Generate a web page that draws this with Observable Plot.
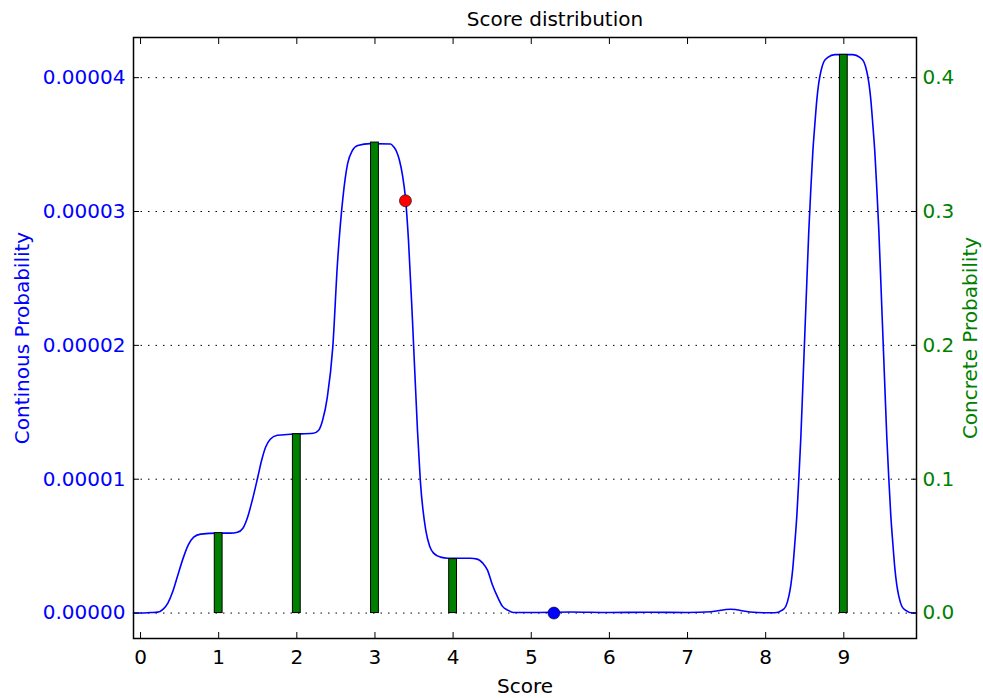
<!DOCTYPE html>
<html><head><meta charset="utf-8">
<script src="https://cdn.jsdelivr.net/npm/d3@7"></script>
<script src="https://cdn.jsdelivr.net/npm/@observablehq/plot@0.6"></script>
<style>body{margin:0;background:#fff} svg{font-family:"DejaVu Sans"}</style>
</head><body><div id="chart"></div>
<script>
// Concrete (discrete) probability per score — right axis
const scores = [0, 1, 2, 3, 4, 5, 6, 7, 8, 9];
const concreteProb = [0, 0.0597, 0.1336, 0.3515, 0.0403, 0, 0, 0, 0, 0.417];

// Continuous probability curve — left axis
const curveScore = [-0.09, 0.0, 0.13, 0.22, 0.29, 0.35, 0.41, 0.47, 0.55, 0.61, 0.68, 0.77, 0.99, 1.15, 1.24, 1.31, 1.37, 1.43, 1.50, 1.55, 1.60, 1.66, 1.75, 1.92, 2.21, 2.28, 2.33, 2.39, 2.46, 2.52, 2.59, 2.65, 2.71, 2.78, 2.94,
  3.199, 3.237, 3.276, 3.314, 3.353, 3.391, 3.429, 3.480, 3.544, 3.58, 3.65, 3.70, 3.75, 3.84, 3.93, 4.22, 4.31, 4.38, 4.44, 4.50, 4.57, 4.63, 4.70, 4.77,
  5.00, 5.50, 6.00, 6.50, 7.00, 7.30, 7.55, 7.80, 8.00, 8.117,
  8.207, 8.258, 8.296, 8.322, 8.347, 8.373, 8.399, 8.424, 8.450, 8.475, 8.501, 8.527, 8.552, 8.578, 8.603, 8.629, 8.655, 8.680, 8.706, 8.744, 8.795, 8.885,
  9.115, 9.205, 9.256, 9.294, 9.320, 9.345, 9.371, 9.397, 9.422, 9.448, 9.473, 9.499, 9.525, 9.550, 9.576, 9.601, 9.627, 9.653, 9.678, 9.704, 9.742, 9.793, 9.883, 9.93];
const curveProb = [0, 0, 4e-8, 7e-8, 3.0e-7, 7.5e-7, 1.57e-6, 2.69e-6, 4.18e-6, 5.07e-6, 5.67e-6, 5.90e-6, 5.97e-6, 5.97e-6, 6.04e-6, 6.34e-6, 7.16e-6, 8.43e-6, 1.015e-5, 1.142e-5, 1.239e-5, 1.299e-5, 1.328e-5, 1.336e-5, 1.343e-5, 1.366e-5, 1.440e-5, 1.612e-5, 1.985e-5, 2.612e-5, 3.104e-5, 3.358e-5, 3.455e-5, 3.493e-5, 3.507e-5,
  3.504e-5, 3.485e-5, 3.448e-5, 3.381e-5, 3.269e-5, 3.097e-5, 2.784e-5, 2.187e-5, 1.366e-5, 9.93e-6, 6.19e-6, 5.00e-6, 4.48e-6, 4.18e-6, 4.10e-6, 4.10e-6, 4.03e-6, 3.73e-6, 3.21e-6, 2.16e-6, 1.19e-6, 5.2e-7, 2.2e-7, 4e-8,
  4e-8, 8e-8, 4e-8, 6e-8, 4e-8, 1.0e-7, 2.8e-7, 8e-8, 2e-8, 2e-8,
  2.0e-7, 5.1e-7, 1.25e-6, 2.08e-6, 3.34e-6, 5.22e-6, 7.30e-6, 1.001e-5, 1.314e-5, 1.690e-5, 2.086e-5, 2.482e-5, 2.857e-5, 3.170e-5, 3.442e-5, 3.650e-5, 3.838e-5, 3.963e-5, 4.046e-5, 4.119e-5, 4.151e-5, 4.172e-5,
  4.172e-5, 4.151e-5, 4.119e-5, 4.046e-5, 3.963e-5, 3.838e-5, 3.650e-5, 3.442e-5, 3.170e-5, 2.857e-5, 2.482e-5, 2.086e-5, 1.690e-5, 1.314e-5, 1.001e-5, 7.30e-6, 5.22e-6, 3.34e-6, 2.08e-6, 1.25e-6, 5.1e-7, 2.0e-7, 0, 0];

// Highlighted points
const markerScore = [3.39, 5.29];
const markerProb = [3.08e-5, 0];
const markerFill = ["#ff0000", "#0000ff"];

// Ticks
const xTicks = [0, 1, 2, 3, 4, 5, 6, 7, 8, 9];
const leftTicks = [0, 0.00001, 0.00002, 0.00003, 0.00004];
const rightTicks = [0.0, 0.1, 0.2, 0.3, 0.4];

// right axis value v sits at v * SCALE on the shared y scale
const SCALE = 1e-4;
const BAR_HALF = 0.05;

const curve = curveScore.map((x, i) => ({x, y: curveProb[i]}));
const bars = scores.map((s, i) => ({s, p: concreteProb[i]}));
const markers = markerScore.map((x, i) => ({x, y: markerProb[i], fill: markerFill[i]}));

const chart = Plot.plot({
  width: 983,
  height: 698,
  marginLeft: 133,
  marginRight: 67,
  marginTop: 37,
  marginBottom: 60,
  style: {fontFamily: "DejaVu Sans", fontSize: "20px", background: "white", overflow: "visible"},
  x: {domain: [-0.09, 9.93]},
  y: {domain: [-1.9e-6, 4.3e-5]},
  marks: [
    Plot.gridY(leftTicks, {stroke: "black", strokeOpacity: 1, strokeWidth: 1, strokeDasharray: "1.5,6"}),
    Plot.line(curve, {x: "x", y: "y", curve: "monotone-x", stroke: "#0000ff", strokeWidth: 1.6}),
    Plot.rect(bars, {x1: d => d.s - BAR_HALF, x2: d => d.s + BAR_HALF, y1: 0, y2: d => d.p * SCALE, fill: "#008000", stroke: "black", strokeWidth: 1}),
    Plot.dot(markers.filter(d => d.fill === "#ff0000"), {x: "x", y: "y", r: 6, fill: "#ff0000", stroke: "black", strokeWidth: 0.6}),
    Plot.dot(markers.filter(d => d.fill === "#0000ff"), {x: "x", y: "y", r: 6, fill: "#0000ff", stroke: "black", strokeWidth: 0.6}),
    Plot.frame({stroke: "black", strokeWidth: 1.5}),
    Plot.axisX(xTicks, {anchor: "bottom", tickSize: -6, tickPadding: 17, label: null, tickFormat: d => String(d), fill: "black", stroke: "black"}),
    Plot.axisX(xTicks, {anchor: "top", tickSize: -6, label: null, fill: "none", stroke: "black"}),
    Plot.axisY(leftTicks, {anchor: "left", tickSize: -6, tickPadding: 14, label: null, tickFormat: d3.format(".5f"), fill: "#0000ff", stroke: "black"}),
    Plot.axisY(rightTicks.map(t => t * SCALE), {anchor: "right", tickSize: -6, tickPadding: 12, label: null, tickFormat: d => (d / SCALE).toFixed(1), fill: "#008000", stroke: "black"}),
    Plot.text(["Continous Probability"], {text: d => d, frameAnchor: "left", dx: -111, rotate: -90, textAnchor: "middle", lineAnchor: "middle", fill: "#0000ff"}),
    Plot.text(["Concrete Probability"], {text: d => d, frameAnchor: "right", dx: 54, rotate: -90, textAnchor: "middle", lineAnchor: "middle", fill: "#008000"}),
    Plot.text(["Score"], {text: d => d, frameAnchor: "bottom", dy: 48, textAnchor: "middle", lineAnchor: "middle", fill: "black"}),
    Plot.text(["Score distribution"], {text: d => d, frameAnchor: "top", dx: 30, dy: -18, textAnchor: "middle", lineAnchor: "middle", fill: "black"})
  ]
});
document.getElementById("chart").appendChild(chart);
</script>
</body></html>
